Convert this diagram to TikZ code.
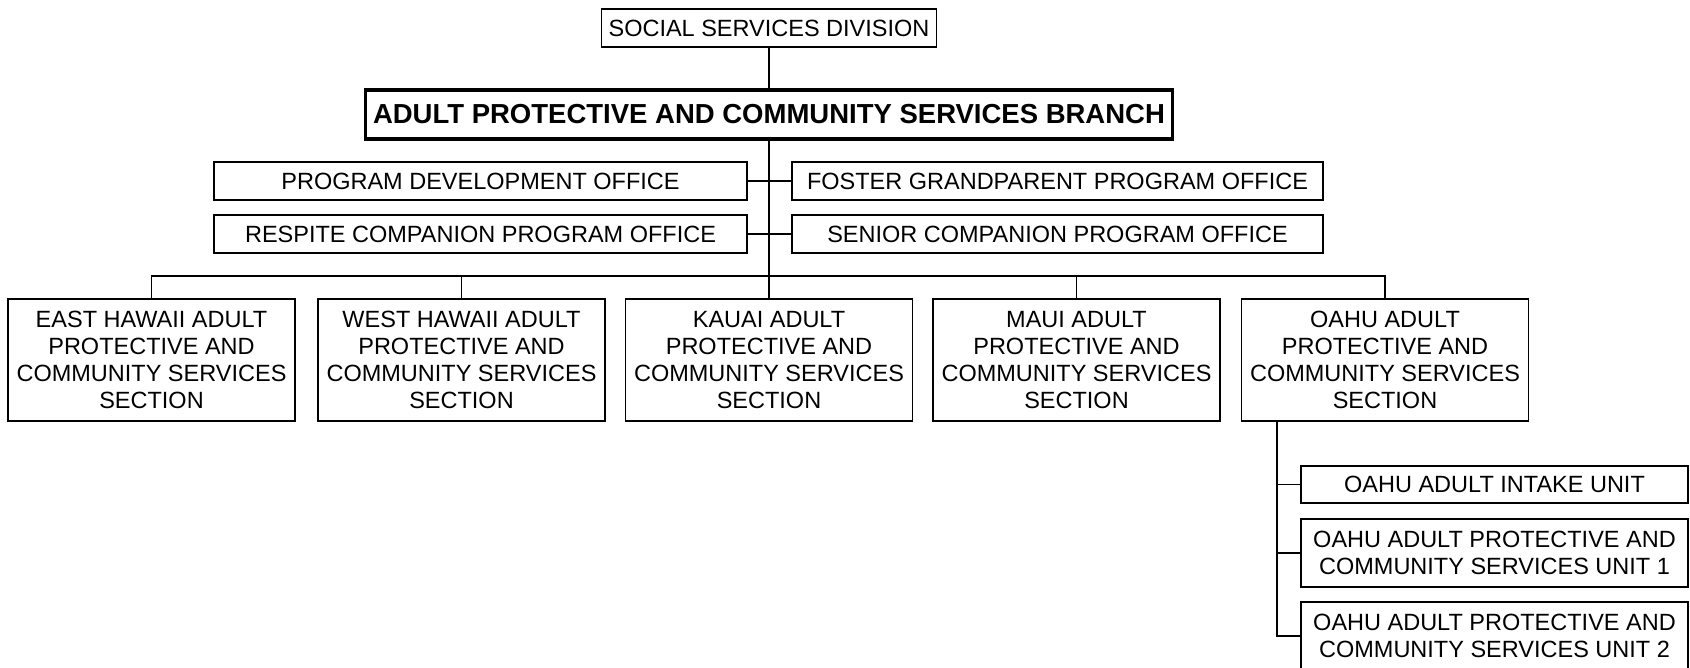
\documentclass[tikz,border=0pt]{standalone}
\usepackage{fontspec}
\setmainfont{Liberation Sans}
\usepackage{tikz}

\begin{document}
\begin{tikzpicture}[x=1pt, y=-1pt,
  every node/.style={inner sep=0pt, outer sep=0pt, align=center,
    font=\fontsize{23.5}{27}\selectfont},
  box/.style={draw, line width=1.6pt, minimum width=#1},
  box/.default=533,
  section/.style={box=287, minimum height=122},
  unitbox/.style={box=387},
  link/.style={line width=1.3pt}]
\useasboundingbox (0,0) rectangle (1690,667);

\node[box=335, minimum height=38] (ssd) at (769,28) {SOCIAL SERVICES DIVISION};
\node[draw, line width=3.2pt, minimum width=807, minimum height=49,
  font=\fontsize{27.5}{30}\selectfont\bfseries] (branch) at (769,114.5)
  {ADULT PROTECTIVE AND COMMUNITY SERVICES BRANCH};

\node[box, minimum height=38] (pdo) at (480.5,181) {PROGRAM DEVELOPMENT OFFICE};
\node[box, minimum height=38] (rcpo) at (480.5,234) {RESPITE COMPANION PROGRAM OFFICE};
\node[box=531, minimum height=38] (fgpo) at (1057.5,181) {FOSTER GRANDPARENT PROGRAM OFFICE};
\node[box=531, minimum height=38] (scpo) at (1057.5,234) {SENIOR COMPANION PROGRAM OFFICE};

\node[section] (east) at (151.5,360) {EAST HAWAII ADULT\\PROTECTIVE AND\\COMMUNITY SERVICES\\SECTION};
\node[section] (west) at (461.5,360) {WEST HAWAII ADULT\\PROTECTIVE AND\\COMMUNITY SERVICES\\SECTION};
\node[section] (kauai) at (769,360) {KAUAI ADULT\\PROTECTIVE AND\\COMMUNITY SERVICES\\SECTION};
\node[section] (maui) at (1076.5,360) {MAUI ADULT\\PROTECTIVE AND\\COMMUNITY SERVICES\\SECTION};
\node[section] (oahu) at (1385,360) {OAHU ADULT\\PROTECTIVE AND\\COMMUNITY SERVICES\\SECTION};

\node[unitbox, minimum height=37] (intake) at (1494.5,484.5) {OAHU ADULT INTAKE UNIT};
\node[unitbox, minimum height=68] (unit1) at (1494.5,553) {OAHU ADULT PROTECTIVE AND\\COMMUNITY SERVICES UNIT 1};
\node[unitbox, minimum height=68] (unit2) at (1494.5,636) {OAHU ADULT PROTECTIVE AND\\COMMUNITY SERVICES UNIT 2};

% trunk and bus
\coordinate (bus) at (769,276);
\coordinate (oahutap) at (1277,421);
\draw[link] (ssd.south) -- (branch.north);
\draw[link] (branch.south) -- (bus);
\draw[link] (pdo.east) -- (fgpo.west);
\draw[link] (rcpo.east) -- (scpo.west);
\draw[link] (east.north) -- (east.north |- bus) -- (oahu.north |- bus) -- (oahu.north);
\draw[link] (west.north) -- (west.north |- bus);
\draw[link] (kauai.north) -- (kauai.north |- bus);
\draw[link] (maui.north) -- (maui.north |- bus);

% oahu units
\draw[link] (oahutap) |- (unit2.west);
\draw[link] (intake.west) -- (intake.west -| oahutap);
\draw[link] (unit1.west) -- (unit1.west -| oahutap);
\end{tikzpicture}
\end{document}
